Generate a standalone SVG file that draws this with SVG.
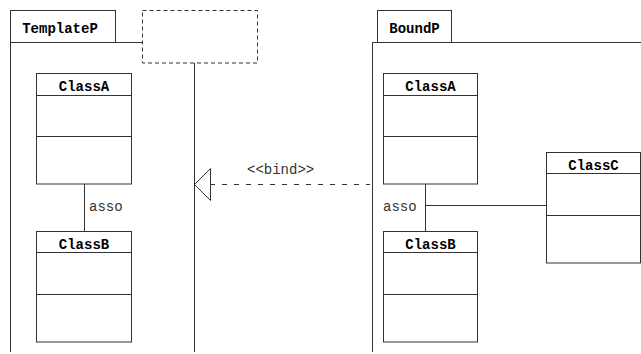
<svg xmlns="http://www.w3.org/2000/svg" width="641" height="354" viewBox="0 0 641 354">
<style>
.ln{fill:none;stroke:#333;stroke-width:1}
.box{fill:#fff;stroke:#333;stroke-width:1}
.nm{font-family:"Liberation Mono","Courier New",monospace;font-weight:bold;font-size:14px;fill:#000;text-anchor:middle}
.lb{font-family:"Liberation Mono","Courier New",monospace;font-size:14px;fill:#333}
</style>
<rect width="641" height="354" fill="#fff"/>
<g id="TemplateP">
<rect class="box" x="10.5" y="10.5" width="105" height="32"/>
<text class="nm" x="60" y="32.5">TemplateP</text>
<path class="ln" d="M10.5 42.5H142M10.5 42.5V352"/>
</g>
<g id="TemplateParam">
<rect x="142.5" y="10.5" width="115" height="52.5" fill="#fff" stroke="#333" stroke-dasharray="4,3"/>
<path class="ln" d="M194.5 63V352"/>
</g>
<g id="T_ClassA">
<rect class="box" x="36.5" y="73.5" width="95" height="110.5"/>
<path class="ln" d="M36.5 95.5H131.5M36.5 136.5H131.5"/>
<text class="nm" x="84" y="90.5">ClassA</text>
</g>
<g id="T_ClassB">
<rect class="box" x="36.5" y="231.5" width="95" height="110.5"/>
<path class="ln" d="M36.5 252.5H131.5M36.5 294.5H131.5"/>
<text class="nm" x="84" y="248.5">ClassB</text>
</g>
<g id="BoundP">
<rect class="box" x="377.5" y="10.5" width="74" height="32"/>
<text class="nm" x="414.5" y="32.5">BoundP</text>
<path class="ln" d="M372.5 42.5H641M372.5 42.5V352"/>
</g>
<g id="B_ClassA">
<rect class="box" x="383.5" y="73.5" width="94" height="110.5"/>
<path class="ln" d="M383.5 95.5H477.5M383.5 136.5H477.5"/>
<text class="nm" x="430.5" y="90.5">ClassA</text>
</g>
<g id="B_ClassB">
<rect class="box" x="383.5" y="231.5" width="94" height="110.5"/>
<path class="ln" d="M383.5 252.5H477.5M383.5 294.5H477.5"/>
<text class="nm" x="430.5" y="248.5">ClassB</text>
</g>
<g id="B_ClassC">
<rect class="box" x="546.5" y="152.5" width="94" height="110.5"/>
<path class="ln" d="M546.5 173.5H640.5M546.5 215.5H640.5"/>
<text class="nm" x="593.5" y="169.5">ClassC</text>
</g>
<g id="connectors">
<path class="ln" d="M84.5 184V231.5"/>
<text class="lb" x="89" y="211">asso</text>
<path class="ln" d="M425.5 184V231.5M425.5 205.5H546.5"/>
<text class="lb" x="383" y="211">asso</text>
<path class="ln" d="M210 184.5H370" stroke-dasharray="5,7"/>
<path class="ln" d="M210.5 168.5L194.5 184.5L210.5 200.5Z"/>
<text class="lb" x="247" y="174">&lt;&lt;bind&gt;&gt;</text>
</g>
</svg>
